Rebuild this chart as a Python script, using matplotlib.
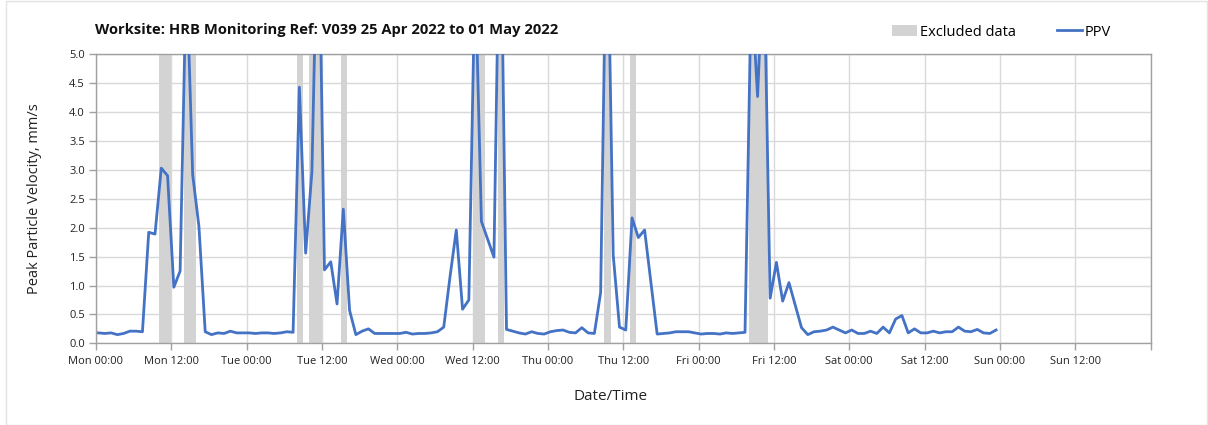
import matplotlib
matplotlib.use("Agg")
import matplotlib.pyplot as plt
from matplotlib.patches import Patch, Rectangle
from matplotlib.lines import Line2D
import pandas as pd

plt.rcParams['font.family'] = ['Open Sans', 'DejaVu Sans']

# ---- data ----
title = "Worksite: HRB Monitoring Ref: V039 25 Apr 2022 to 01 May 2022"
x_label = "Date/Time"
y_label = "Peak Particle Velocity, mm/s"
start_time = "2022-04-25 00:24"
n_samples = 144  # hourly readings

ppv = [
    0.18, 0.17, 0.18, 0.15, 0.17, 0.21, 0.21, 0.20, 1.92, 1.89,
    3.03, 2.90, 0.97, 1.25, 6.50, 2.92, 2.02, 0.20, 0.15, 0.18,
    0.17, 0.21, 0.18, 0.18, 0.18, 0.17, 0.18, 0.18, 0.17, 0.18,
    0.20, 0.19, 4.43, 1.56, 2.97, 8.00, 1.27, 1.41, 0.68, 2.32,
    0.57, 0.15, 0.21, 0.25, 0.17, 0.17, 0.17, 0.17, 0.17, 0.19,
    0.16, 0.17, 0.17, 0.18, 0.20, 0.28, 1.15, 1.96, 0.59, 0.75,
    6.50, 2.11, 1.80, 1.49, 8.30, 0.24, 0.21, 0.18, 0.16, 0.20,
    0.17, 0.16, 0.20, 0.22, 0.23, 0.19, 0.18, 0.27, 0.18, 0.17,
    0.88, 8.00, 1.53, 0.28, 0.23, 2.17, 1.83, 1.96, 1.06, 0.16,
    0.17, 0.18, 0.20, 0.20, 0.20, 0.18, 0.16, 0.17, 0.17, 0.16,
    0.18, 0.17, 0.18, 0.19, 6.20, 4.27, 6.80, 0.78, 1.40, 0.73,
    1.05, 0.66, 0.27, 0.15, 0.20, 0.21, 0.23, 0.28, 0.23, 0.18,
    0.23, 0.17, 0.17, 0.21, 0.17, 0.28, 0.18, 0.42, 0.48, 0.18,
    0.25, 0.18, 0.18, 0.21, 0.18, 0.20, 0.20, 0.28, 0.21, 0.20,
    0.24, 0.18, 0.17, 0.23,
]

excluded_periods = [
    ("2022-04-25 10:00", "2022-04-25 12:00"),
    ("2022-04-25 14:00", "2022-04-25 16:00"),
    ("2022-04-26 08:00", "2022-04-26 09:00"),
    ("2022-04-26 10:00", "2022-04-26 12:00"),
    ("2022-04-26 15:00", "2022-04-26 16:00"),
    ("2022-04-27 12:00", "2022-04-27 14:00"),
    ("2022-04-27 16:00", "2022-04-27 17:00"),
    ("2022-04-28 09:00", "2022-04-28 10:00"),
    ("2022-04-28 13:00", "2022-04-28 14:00"),
    ("2022-04-29 08:00", "2022-04-29 11:00"),
]

x_start = "2022-04-25 00:00"
x_end = "2022-05-02 00:00"
y_ticks = [0.0, 0.5, 1.0, 1.5, 2.0, 2.5, 3.0, 3.5, 4.0, 4.5, 5.0]

# ---- figure ----
W, H = 1208, 425
fig = plt.figure(figsize=(W / 100, H / 100), dpi=100)
ax = fig.add_axes([96 / W, 1 - 343.3 / H, (1150.5 - 96) / W, (343.3 - 54.3) / H])

times = pd.date_range(start_time, periods=n_samples, freq="h")

for s, e in excluded_periods:
    ax.axvspan(pd.Timestamp(s), pd.Timestamp(e), color="#d3d3d3", lw=0, zorder=1)

ax.plot(times, ppv, color="#4472C4", lw=2.0, zorder=3, solid_joinstyle="round")

ax.set_xlim(pd.Timestamp(x_start), pd.Timestamp(x_end))
ax.set_ylim(0, 5.0)

xt = pd.date_range(x_start, x_end, freq="12h")
ax.set_xticks(xt)
labels = [t.strftime("%a %H:%M") for t in xt]
labels[-1] = ""
ax.set_xticklabels(labels)
ax.set_yticks(y_ticks)
ax.set_yticklabels([f"{v:.1f}" for v in y_ticks])

ax.grid(True, color="#d9d9d9", lw=1.0, zorder=0)
ax.set_axisbelow(True)
for sp in ax.spines.values():
    sp.set_color("#a0a0a0")
    sp.set_linewidth(1.0)
ax.tick_params(axis="both", colors="#a0a0a0", labelcolor="#222222",
               labelsize=8, length=5, width=1.0, direction="out")
ax.tick_params(axis="x", pad=4)
ax.tick_params(axis="y", pad=3)

fig.text(611 / W, 1 - 396 / H, x_label, fontsize=11, color="#222222",
         ha="center", va="center")
fig.text(35 / W, 1 - 198.5 / H, y_label, fontsize=10.5, color="#222222",
         ha="center", va="center", rotation=90)

fig.text(95 / W, 1 - 30 / H, title, fontsize=10.6, fontweight="bold",
         va="center", ha="left", color="#111111")

handles = [Patch(facecolor="#d3d3d3", edgecolor="none", label="Excluded data"),
           Line2D([0], [0], color="#4472C4", lw=2, label="PPV")]
fig.legend(handles=handles, loc="center left", bbox_to_anchor=(879 / W, 1 - 32 / H),
           ncol=2, frameon=False, fontsize=10.5, handlelength=1.7,
           handleheight=0.7, handletextpad=0.2, columnspacing=2.85)

fig.patches.append(Rectangle((5.5 / W, 0.5 / H), (1206.5 - 5.5) / W, (424 - 0.5) / H,
                             transform=fig.transFigure, fill=False,
                             edgecolor="#e3e3e3", lw=1.0))

fig.savefig("out.png", dpi=100)
